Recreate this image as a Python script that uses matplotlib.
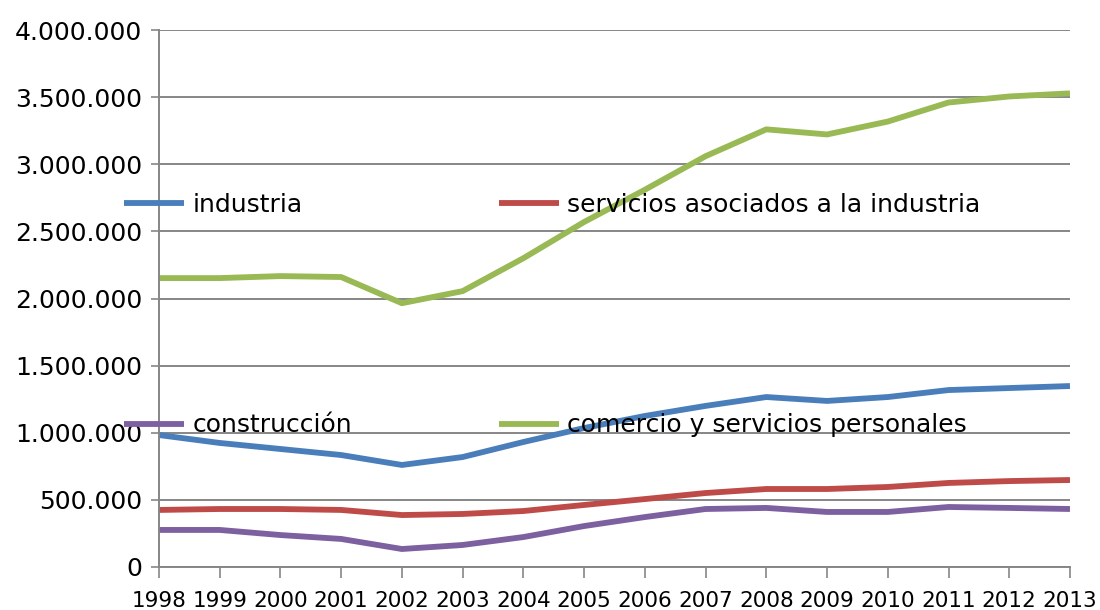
import matplotlib
matplotlib.use('Agg')
import matplotlib.pyplot as plt
from matplotlib.ticker import FuncFormatter, MultipleLocator

plt.rcParams['font.family'] = 'DejaVu Sans'

years = list(range(1998, 2014))
industria = [983000, 924000, 879000, 834000, 760000, 819000, 931000, 1035000,
             1125000, 1200000, 1266000, 1237000, 1266000, 1318000, 1333000, 1348000]
servicios_ind = [425000, 432000, 432000, 425000, 387000, 395000, 417000, 462000,
                 506000, 551000, 581000, 581000, 596000, 626000, 640000, 648000]
construccion = [276000, 276000, 238000, 209000, 134000, 164000, 223000, 305000,
                372000, 432000, 440000, 410000, 410000, 447000, 440000, 432000]
comercio = [2152000, 2152000, 2167000, 2160000, 1965000, 2055000, 2300000, 2570000,
            2810000, 3060000, 3260000, 3222000, 3318000, 3460000, 3505000, 3528000]

labels = ['industria', 'servicios asociados a la industria',
          'construcción', 'comercio y servicios personales']
colors = ['#4A7EBB', '#BE4B48', '#7D60A0', '#98B954']

fig = plt.figure(figsize=(11, 6.1), dpi=100)
ax = fig.add_axes([0.1445, 0.0705, 0.8282, 0.8803])

lw = 4.2
l1, = ax.plot(years, industria, color=colors[0], lw=lw, solid_capstyle='butt')
l2, = ax.plot(years, servicios_ind, color=colors[1], lw=lw, solid_capstyle='butt')
l3, = ax.plot(years, construccion, color=colors[2], lw=lw, solid_capstyle='butt')
l4, = ax.plot(years, comercio, color=colors[3], lw=lw, solid_capstyle='butt')

ax.set_xlim(1998, 2013)
ax.set_ylim(0, 4000000)
ax.yaxis.set_major_locator(MultipleLocator(500000))
ax.yaxis.set_major_formatter(FuncFormatter(lambda v, p: f"{int(v):,}".replace(',', '.')))
ax.set_xticks(years)
ax.set_xticklabels([str(y) for y in years])

ax.grid(axis='y', color='#868686', linewidth=1.4)
ax.set_axisbelow(True)
for s in ['top', 'right']:
    ax.spines[s].set_visible(False)
for s in ['left', 'bottom']:
    ax.spines[s].set_color('#868686')
    ax.spines[s].set_linewidth(1.4)

ax.tick_params(axis='y', labelsize=18, length=6, width=1.2, color='#868686', pad=6)
ax.tick_params(axis='x', labelsize=15.5, length=8, width=1.2, color='#868686', pad=9)

# legend laid out 2x2 across the middle of the plot
leg = fig.legend([l1, l3, l2, l4], [labels[0], labels[2], labels[1], labels[3]],
                 ncol=2, loc='upper left', bbox_to_anchor=(0.1015, 0.704),
                 frameon=False, fontsize=18, borderpad=0,
                 handlelength=2.4, handletextpad=0.32,
                 columnspacing=5.9, labelspacing=7.85)
for h in leg.legend_handles:
    h.set_linewidth(4.2)

fig.savefig('out.png', dpi=100)
